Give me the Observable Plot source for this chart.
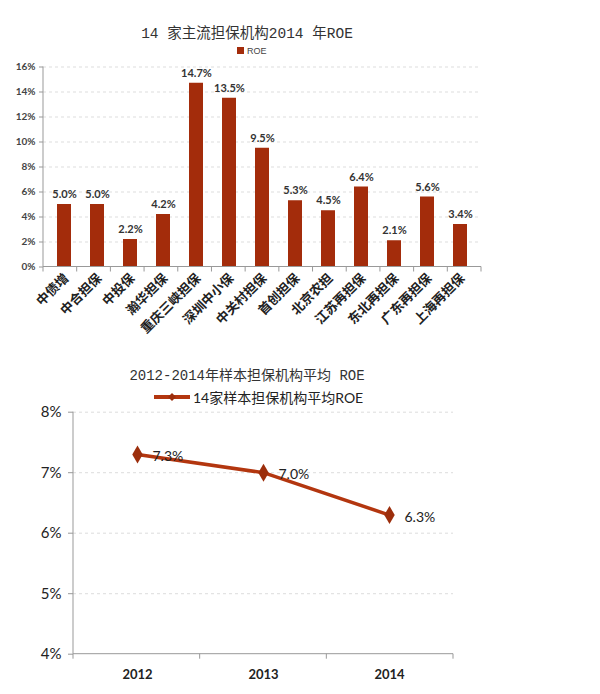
<!DOCTYPE html>
<html><head><meta charset="utf-8">
<script src="https://cdn.jsdelivr.net/npm/d3@7"></script>
<script src="https://cdn.jsdelivr.net/npm/@observablehq/plot@0.6"></script>
<style>
body{margin:0;background:#fff;}
#wrap{position:relative;width:600px;height:694px;overflow:hidden;background:#fff;}
.abs{position:absolute;}
svg{overflow:visible;}
</style></head>
<body><div id="wrap"></div>
<script>
// ---- data: chart 1 ----
const institutions = ["中债增","中合担保","中投保","瀚华担保","重庆三峡担保","深圳中小保","中关村担保","首创担保","北京农担","江苏再担保","东北再担保","广东再担保","上海再担保"];
const roe2014 = [0.050,0.050,0.022,0.042,0.147,0.135,0.095,0.053,0.045,0.064,0.021,0.056,0.034];
const yTicks1 = [0,0.02,0.04,0.06,0.08,0.10,0.12,0.14,0.16];
// ---- data: chart 2 ----
const years = ["2012","2013","2014"];
const avgRoe = [0.073,0.070,0.063];
const yTicks2 = [0.04,0.05,0.06,0.07,0.08];

const barColor = "#a32c0b";
const lineColor = "#b3360f";
const wrap = document.getElementById("wrap");

function addDiv(html, css){const d=document.createElement("div");d.className="abs";d.style.cssText=css;d.innerHTML=html;wrap.appendChild(d);return d;}

// titles / legends
addDiv("14 家主流担保机构2014 年ROE","left:0;width:494px;top:21px;text-align:center;font-size:14.5px;font-family:'Liberation Mono','Noto Sans CJK SC',monospace;color:#333;");
addDiv('<span style="display:inline-block;width:7px;height:7px;background:'+barColor+';margin-right:3px;vertical-align:middle"></span><span style="vertical-align:middle">ROE</span>',"left:237px;top:45px;font-size:9px;font-family:'Liberation Sans',sans-serif;color:#444;");

addDiv("2012-2014年样本担保机构平均 ROE","left:0;width:494px;top:364px;text-align:center;font-size:14px;font-family:'Liberation Mono','Noto Sans CJK SC',monospace;color:#333;");
addDiv('<svg width="38" height="12" style="vertical-align:middle"><line x1="1" y1="6" x2="37" y2="6" stroke="'+lineColor+'" stroke-width="4"/><path d="M19,2 L23,6 L19,10 L15,6Z" fill="#9c2e0c"/></svg><span style="vertical-align:middle;margin-left:2px">14家样本担保机构平均ROE</span>',"left:153px;top:387px;font-size:14px;font-family:'Lato','Noto Sans CJK SC',sans-serif;color:#222;white-space:nowrap;");

// ---- chart 1 ----
const data1 = institutions.map((n,i)=>({name:n, v:roe2014[i]}));
const fmt0 = d3.format(".0%");
const fmt1 = d3.format(".1%");
const c1 = Plot.plot({
  width:600, height:280,
  marginLeft:43, marginRight:119, marginTop:10.5, marginBottom:69.5,
  style:{fontFamily:"Lato, 'Noto Sans CJK SC', sans-serif", background:"transparent", overflow:"visible"},
  x:{type:"band", domain:institutions, paddingInner:0.58, paddingOuter:0.29, label:null},
  y:{domain:[0,0.16], label:null},
  marks:[
    Plot.gridY(yTicks1.slice(1), {stroke:"#bbb", strokeOpacity:0.5, strokeDasharray:"3,3"}),
    Plot.axisY({ticks:yTicks1, tickFormat:fmt0, tickSize:4, tickPadding:4, fontSize:10, fontWeight:"bold", fill:"#444", stroke:"#999"}),
    Plot.barY(data1, {x:"name", y:"v", fill:barColor}),
    Plot.axisX({tickRotate:-45, tickSize:0, tickPadding:9, dx:2, fontSize:13, fontWeight:"bold", fill:"#222", fontFamily:"'Noto Sans CJK SC',sans-serif"}),
    Plot.text(data1, {x:"name", y:"v", text:d=>fmt1(d.v), dy:-10, fontSize:11, fontWeight:"bold", fill:"#333"})
  ]
});
c1.style.position="absolute"; c1.style.left="0px"; c1.style.top="56px";
wrap.appendChild(c1);

function decorate(chart, yLo){
  const sx = chart.scale("x"), sy = chart.scale("y");
  const svg = d3.select(chart);
  const dom = sx.domain;
  const y0 = sy.apply(yLo);
  const top = sy.apply(sy.domain[1]);
  const r0 = sx.range[0], r1 = sx.range[1];
  const g = svg.append("g").attr("stroke","#999").attr("stroke-width",1);
  g.append("line").attr("x1",r0).attr("x2",r1).attr("y1",y0).attr("y2",y0);
  g.append("line").attr("x1",r0).attr("x2",r0).attr("y1",top).attr("y2",y0);
  for(let i=0;i<=dom.length;i++){
    const x = r0 + (r1-r0)*i/dom.length;
    g.append("line").attr("x1",x).attr("x2",x).attr("y1",y0).attr("y2",y0+5);
  }
}
decorate(c1, 0);

// ---- chart 2 ----
const data2 = years.map((y,i)=>({year:y, v:avgRoe[i]}));
const c2 = Plot.plot({
  width:600, height:294,
  marginLeft:73, marginRight:147, marginTop:11.7, marginBottom:40.3,
  style:{fontFamily:"Lato, 'Noto Sans CJK SC', sans-serif", background:"transparent", overflow:"visible"},
  x:{type:"band", domain:years, padding:0, label:null},
  y:{domain:[0.04,0.08], label:null},
  marks:[
    Plot.gridY(yTicks2.slice(1), {stroke:"#bbb", strokeOpacity:0.5, strokeDasharray:"3,3"}),
    Plot.axisY({ticks:yTicks2, tickFormat:fmt0, tickSize:5, tickPadding:7, fontSize:15, fill:"#222", stroke:"#999"}),
    Plot.axisX({tickSize:0, tickPadding:16, fontSize:13, fontWeight:"bold", fill:"#222"}),
    Plot.line(data2, {x:"year", y:"v", stroke:lineColor, strokeWidth:3.5}),
    Plot.dot(data2, {x:"year", y:"v", symbol:"diamond", r:5.5, fill:"#9c2e0c", stroke:"none"}),
    Plot.text(data2, {x:"year", y:"v", text:d=>fmt1(d.v), textAnchor:"start", dx:15, dy:2, fontSize:14, fill:"#222"})
  ]
});
c2.style.position="absolute"; c2.style.left="0px"; c2.style.top="400px";
wrap.appendChild(c2);
decorate(c2, 0.04);
</script></body></html>
